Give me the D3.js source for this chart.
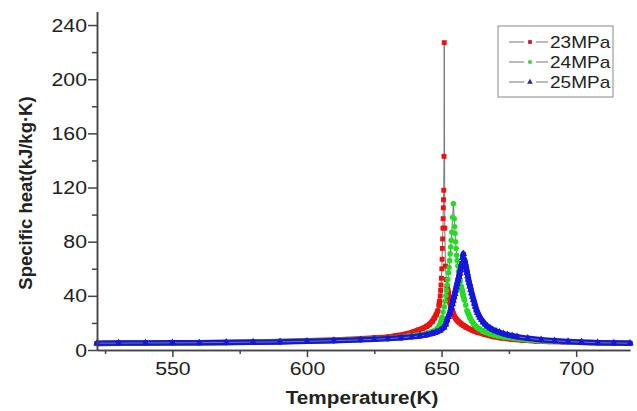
<!DOCTYPE html>
<html>
<head>
<meta charset="utf-8">
<script src="https://cdn.jsdelivr.net/npm/d3@7"></script>
<style>
  body { margin: 0; background: #fff; }
  text { font-family: "Liberation Sans", Arial, sans-serif; fill: #222; }
</style>
</head>
<body>
<div id="chart"></div>
<script>
// values (temperature in K, specific heat in kJ/kg.K)
var temp23 = [522, 530, 540, 550, 560, 570, 580, 590, 600, 610, 615, 620, 625, 630, 633, 636, 639, 641, 643, 644.5, 645.5, 646.5, 647.3, 648, 648.6, 649.1, 649.3, 649.5, 649.65, 649.8, 649.95, 650.1, 650.2, 650.3, 650.4, 650.5, 650.58, 650.65, 650.72, 650.8, 650.9, 651.0,
  651.2, 651.45, 651.8, 652.1, 652.3, 652.5, 652.75, 653, 653.3, 653.6, 654, 654.3, 654.7, 655.2, 655.7, 656.2, 656.8, 657.5, 658.2, 659, 660, 661, 662.2, 663.5, 666, 669, 672, 676, 680, 685, 690, 695, 700, 705, 710, 715, 720];
var cp23 = [4.8, 4.9, 5.0, 5.2, 5.4, 5.6, 5.9, 6.3, 6.8, 7.4, 7.8, 8.3, 8.9, 9.5, 10.5, 11.5, 13, 14.5, 16, 17.5, 19, 21, 23.5, 26, 29, 33, 36, 40, 44, 48, 53, 60, 67, 75, 82, 90, 97, 105, 111, 118, 143, 227,
  90, 62, 52, 47, 44, 41.5, 39, 36, 33.5, 31, 29, 27, 25, 23.5, 22.2, 21, 20, 19, 18, 17, 16, 15, 14, 13, 11.5, 10, 9, 8, 7.3, 6.7, 6.3, 6.0, 5.7, 5.5, 5.3, 5.1, 5.0];

var temp24 = [522, 530, 540, 550, 560, 570, 580, 590, 600, 610, 620, 625, 630, 635, 639, 642, 644.5, 646.5, 648, 648.7, 649.2, 649.7, 650.2, 650.6, 651, 651.3, 651.6, 651.85, 652.1, 652.35, 652.6, 652.8, 653, 653.2, 653.4, 653.6, 653.8, 654.1, 654.4,
  654.7, 654.85, 655.0, 655.2, 655.4, 655.6, 655.8, 656.05, 656.3, 656.6, 656.9, 657.25, 657.6, 658, 658.5, 659, 659.5, 660, 660.5, 661.2, 662, 663, 664, 665.2, 666.5, 668, 669.5, 671, 673, 677, 682, 687, 692, 697, 702, 708, 714, 720];
var cp24 = [4.8, 4.9, 5.0, 5.2, 5.4, 5.6, 5.8, 6.2, 6.6, 7.1, 7.7, 8.1, 8.5, 9.3, 10.3, 11.2, 12.2, 13.5, 15, 16.3, 18, 20.5, 24, 28, 32, 36, 40, 44, 48, 52, 57, 61, 66, 71, 76, 81, 87, 98, 108,
  97, 91, 86, 80, 75, 70, 66, 62, 58, 54, 51, 47, 44, 40.5, 37, 33, 29, 26.5, 24, 21.5, 19, 17, 15.5, 14.2, 13, 12, 11, 10.3, 9.7, 8.6, 7.6, 6.9, 6.4, 6.0, 5.7, 5.4, 5.2, 5.0];

var temp25 = [522, 530, 540, 550, 560, 570, 580, 590, 600, 610, 620, 625, 630, 635, 639, 642, 644.5, 646.5, 648, 649.5, 650.8, 651.5, 652, 652.5, 653, 653.5, 654, 654.3, 654.6, 654.9, 655.2, 655.5, 655.8, 656.1, 656.4, 656.7, 657, 657.25, 657.5, 657.8, 658.1,
  658.5, 658.75, 659, 659.25, 659.5, 659.75, 660, 660.3, 660.6, 660.9, 661.2, 661.55, 661.9, 662.25, 662.6, 663, 663.4, 663.85, 664.3, 664.9, 665.5, 666.2, 667, 668, 669, 670.2, 671.5, 673, 674.5, 676.2, 678, 682, 687, 692, 697, 702, 708, 714, 720];
var cp25 = [5.0, 5.1, 5.2, 5.3, 5.4, 5.6, 5.8, 6.0, 6.4, 6.9, 7.5, 7.9, 8.4, 9.0, 9.7, 10.4, 11.2, 12.2, 13.2, 14.5, 16.5, 19, 22, 24.5, 27, 30.5, 34, 36.5, 39, 41.5, 44, 46.5, 49, 51.5, 54, 56.5, 59, 61.5, 64, 68, 71,
  67, 64.5, 62, 59.5, 57, 54.5, 52, 49.5, 47, 44.5, 42, 39.5, 37, 34.5, 32, 29.5, 27.5, 25.7, 24, 22.2, 20.5, 19, 17.5, 16.2, 15, 14, 13, 12, 11.2, 10.5, 9.8, 8.6, 7.6, 6.8, 6.2, 5.8, 5.4, 5.2, 5.0];

var seriesNames = ["23MPa", "24MPa", "25MPa"];
var xMajor = [550, 600, 650, 700];
var xMinor = [525, 575, 625, 675];
var yMajor = [0, 40, 80, 120, 160, 200, 240];
var yMinor = [20, 60, 100, 140, 180, 220];

var width = 637;
var height = 411;
var stretch = 1.12; // the original image is a bit wider than tall

var series = [
  {name: seriesNames[0], temp: temp23, cp: cp23, color: "#ee1111", mark: d3.symbolSquare, size: 24},
  {name: seriesNames[1], temp: temp24, cp: cp24, color: "#22dd22", mark: d3.symbolCircle, size: 24},
  {name: seriesNames[2], temp: temp25, cp: cp25, color: "#1515dd", mark: d3.symbolTriangle, size: 24}
];
series.forEach(s => {
  s.points = s.temp.map((t, i) => ({t: t, v: s.cp[i]}));
});

var svg = d3.select("#chart")
  .append("svg")
  .attr("width", width)
  .attr("height", height);

var x = d3.scaleLinear().domain([522, 720]).range([97, 630]);
var y = d3.scaleLinear().domain([0, 250]).range([350, 11.5]);

var line = d3.line().x(d => x(d.t)).y(d => y(d.v));

//curves: where the points are dense they merge into a coloured band,
//near the peaks you only see the grey line with the markers on it
series.forEach(s => {
  var g = svg.append("g");
  var flat = [];
  for (var i = 0; i < s.points.length - 1; i++) {
    if (Math.abs(y(s.points[i + 1].v) - y(s.points[i].v)) < 5) {
      flat.push([s.points[i], s.points[i + 1]]);
    }
  }
  g.selectAll("path.band")
    .data(flat)
    .enter().append("path")
    .attr("class", "band")
    .attr("d", d => line(d))
    .attr("fill", "none")
    .attr("stroke", s.color)
    .attr("stroke-width", 5.5)
    .attr("stroke-linecap", "round");
  g.append("path")
    .attr("d", line(s.points))
    .attr("fill", "none")
    .attr("stroke", "#777")
    .attr("stroke-width", 1);
  g.selectAll("path.mk")
    .data(s.points)
    .enter().append("path")
    .attr("class", "mk")
    .attr("transform", d => "translate(" + x(d.t) + "," + y(d.v) + ")")
    .attr("d", d3.symbol().type(s.mark).size(s.size))
    .attr("fill", s.color);
});

//axes
function styleAxis(g) {
  g.select(".domain").attr("stroke", "#444").attr("stroke-width", 1.5);
  g.selectAll(".tick line").attr("stroke", "#444").attr("stroke-width", 1.5);
}

var xAxis = svg.append("g")
  .attr("transform", "translate(0,350)")
  .call(d3.axisBottom(x).tickValues(xMajor).tickSize(7).tickPadding(5).tickSizeOuter(0));
xAxis.call(styleAxis);
xAxis.selectAll("text")
  .style("font-size", "19px")
  .attr("fill", "#222")
  .attr("transform", "scale(" + stretch + ",1)");

svg.append("g")
  .attr("transform", "translate(0,350)")
  .call(d3.axisBottom(x).tickValues(xMinor).tickSize(4).tickFormat("").tickSizeOuter(0))
  .call(styleAxis);

var yAxis = svg.append("g")
  .attr("transform", "translate(97,0)")
  .call(d3.axisLeft(y).tickValues(yMajor).tickSize(9).tickSizeOuter(0));
yAxis.call(styleAxis);
yAxis.selectAll("text")
  .style("font-size", "19px")
  .attr("fill", "#222")
  .attr("x", -10 / stretch)
  .attr("transform", "scale(" + stretch + ",1)");

svg.append("g")
  .attr("transform", "translate(97,0)")
  .call(d3.axisLeft(y).tickValues(yMinor).tickSize(5).tickFormat("").tickSizeOuter(0))
  .call(styleAxis);

//axis titles
svg.append("text")
  .attr("transform", "translate(362,404) scale(" + stretch + ",1)")
  .style("text-anchor", "middle")
  .style("font-size", "18.5px")
  .style("font-weight", "bold")
  .text("Temperature(K)");

svg.append("text")
  .attr("transform", "translate(32,193) rotate(-90)")
  .style("text-anchor", "middle")
  .style("font-size", "18.5px")
  .style("font-weight", "bold")
  .text("Specific heat(kJ/kg·K)");

//legend
var legendColors = ["#d81030", "#44cc44", "#2222aa"];
svg.append("rect")
  .attr("x", 498)
  .attr("y", 26)
  .attr("width", 115)
  .attr("height", 71)
  .attr("fill", "white")
  .attr("stroke", "#888")
  .attr("stroke-width", 1);

series.forEach((s, i) => {
  var ly = 42 + i * 20;
  svg.append("line")
    .attr("x1", 509).attr("x2", 548)
    .attr("y1", ly).attr("y2", ly)
    .attr("stroke", "#777")
    .attr("stroke-width", 1);
  svg.append("rect")
    .attr("x", 524).attr("y", ly - 6)
    .attr("width", 12).attr("height", 12)
    .attr("fill", "white");
  svg.append("path")
    .attr("transform", "translate(530," + ly + ")")
    .attr("d", d3.symbol().type(s.mark).size(14))
    .attr("fill", legendColors[i]);
  svg.append("text")
    .attr("transform", "translate(550," + (ly + 6) + ") scale(" + stretch + ",1)")
    .style("font-size", "17px")
    .text(s.name);
});
</script>
</body>
</html>
